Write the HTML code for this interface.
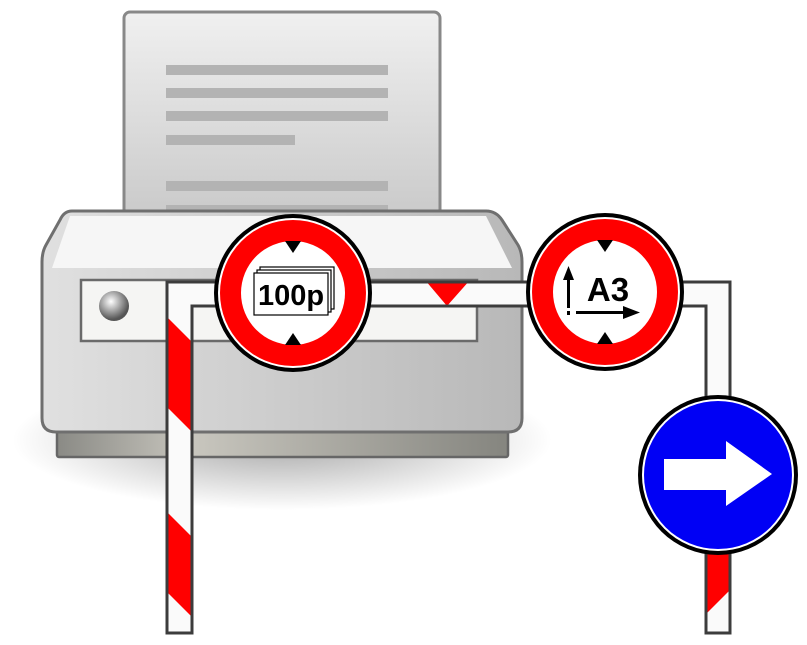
<!DOCTYPE html>
<html><head><meta charset="utf-8"><style>html,body{margin:0;padding:0;background:#fff}svg{display:block}</style></head><body>
<svg width="807" height="645" viewBox="0 0 807 645" xmlns="http://www.w3.org/2000/svg">
<defs>
<radialGradient id="sh" cx="0.5" cy="0.5" r="0.5"><stop offset="0" stop-color="#000" stop-opacity="0.35"/><stop offset="1" stop-color="#000" stop-opacity="0"/></radialGradient>
<linearGradient id="paper" x1="0" y1="0" x2="0" y2="1"><stop offset="0" stop-color="#f0f0f0"/><stop offset="1" stop-color="#c4c4c4"/></linearGradient>
<linearGradient id="body" x1="0" y1="0" x2="1" y2="0"><stop offset="0" stop-color="#e0e0e0"/><stop offset="1" stop-color="#b8b8b8"/></linearGradient>
<linearGradient id="base" x1="0" y1="0" x2="1" y2="0"><stop offset="0" stop-color="#8a8a85"/><stop offset="0.3" stop-color="#c8c6be"/><stop offset="1" stop-color="#85857f"/></linearGradient>
<radialGradient id="btn" cx="0.4" cy="0.35" r="0.6"><stop offset="0" stop-color="#fff"/><stop offset="1" stop-color="#555"/></radialGradient>
<clipPath id="pipe"><path d="M167,633 V282 H730 V633 H706 V306 H192 V633 Z"/></clipPath>
</defs>
<ellipse cx="282" cy="440" rx="270" ry="70" fill="url(#sh)"/>
<rect x="124" y="12" width="316" height="236" rx="6" fill="url(#paper)" stroke="#888" stroke-width="3"/>
<g fill="#b3b3b3"><rect x="166" y="65" width="222" height="10"/><rect x="166" y="88" width="222" height="10"/><rect x="166" y="111" width="222" height="10"/><rect x="166" y="135" width="129" height="10"/><rect x="166" y="181" width="222" height="10"/><rect x="166" y="205" width="222" height="10"/></g>
<rect x="57" y="425" width="451" height="32" rx="2" fill="url(#base)" stroke="#666" stroke-width="2.5"/>
<path d="M72,211 H486 Q496,211 502,220 L518,245 Q522,252 522,262 V418 Q522,432 508,432 H56 Q42,432 42,418 V262 Q42,252 46,245 L60,220 Q64,211 72,211 Z" fill="url(#body)" stroke="#6f6f6f" stroke-width="3"/>
<path d="M70,216 H486 L512,268 H52 Z" fill="#f6f6f6"/>
<rect x="81" y="280" width="396" height="61" fill="#f5f5f3" stroke="#6a6a6a" stroke-width="2.5"/>
<circle cx="114" cy="306" r="15" fill="url(#btn)"/>
<path d="M167,633 V282 H730 V633 H706 V306 H192 V633 Z" fill="#fafafa"/>
<g clip-path="url(#pipe)" fill="#f00">
<polygon points="160,310 200,350 200,440 160,400"/>
<polygon points="160,505 200,545 200,625 160,585"/>
<polygon points="425,280 470,280 447,306"/>
<polygon points="700,550 740,550 740,580 700,620"/>
</g>
<path d="M167,633 V282 H730 V633 H706 V306 H192 V633 Z" fill="none" stroke="#3c3c3c" stroke-width="3"/>
<g transform="translate(293,293)">
<circle r="79" fill="#000"/><circle r="75" fill="#fff"/><circle r="73" fill="#f00"/><circle r="52" fill="#fff"/>
<polygon points="-8,-52 8,-52 0,-40" fill="#000"/><polygon points="-8,52 8,52 0,40" fill="#000"/>
<rect x="-33" y="-26" width="74" height="42" fill="#fff" stroke="#000" stroke-width="1.2"/>
<rect x="-36" y="-23" width="74" height="42" fill="#fff" stroke="#000" stroke-width="1.2"/>
<rect x="-39" y="-20" width="74" height="42" fill="#fff" stroke="#000" stroke-width="1.2"/>
<text x="-2" y="12" text-anchor="middle" font-family="Liberation Sans, sans-serif" font-weight="bold" font-size="29">100p</text>
</g>
<g transform="translate(605,292)">
<circle r="79" fill="#000"/><circle r="75" fill="#fff"/><circle r="73" fill="#f00"/><circle r="52" fill="#fff"/>
<polygon points="-8,-52 8,-52 0,-40" fill="#000"/><polygon points="-8,52 8,52 0,40" fill="#000"/>
<rect x="-38" y="-14" width="3" height="30" fill="#000"/><polygon points="-42,-12 -31,-12 -36.5,-26" fill="#000"/>
<rect x="-38" y="19" width="3" height="4" fill="#000"/>
<rect x="-29" y="19" width="50" height="3" fill="#000"/><polygon points="18,14 35,20.5 18,27" fill="#000"/>
<text x="3" y="9" text-anchor="middle" font-family="Liberation Sans, sans-serif" font-weight="bold" font-size="33">A3</text>
</g>
<g transform="translate(718,475)">
<circle r="80" fill="#000"/><circle r="76" fill="#fff"/><circle r="74" fill="#0000f5"/>
<polygon points="-54,-16 8,-16 8,-34 54,-1 8,31 8,15 -54,15" fill="#fff"/>
</g>
</svg>
</body></html>
